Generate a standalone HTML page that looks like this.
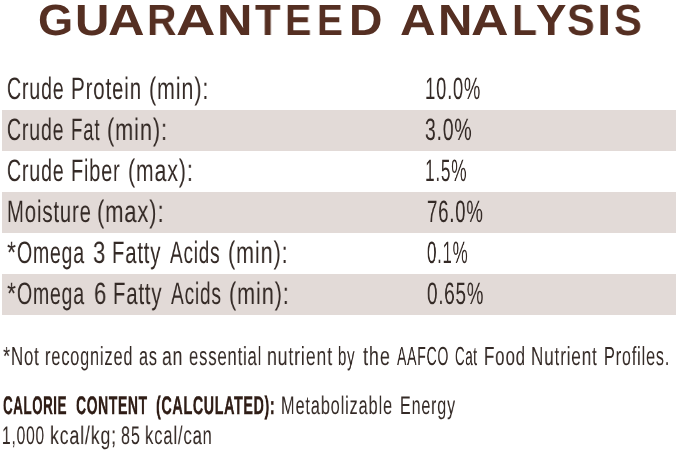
<!DOCTYPE html>
<html><head><meta charset="utf-8">
<style>
html,body{margin:0;padding:0;background:#fff;}
body{width:679px;height:451px;position:relative;overflow:hidden;font-family:"Liberation Sans",sans-serif;color:#342a26;}
span{position:absolute;white-space:nowrap;line-height:1;transform-origin:0 0;text-rendering:geometricPrecision;will-change:transform;}
.n{letter-spacing:1.3px;}
.b{font-weight:bold;color:#2f1d16;letter-spacing:1.0px;-webkit-text-stroke:0.4px #2f1d16;}
.t{font-weight:bold;color:#552f22;font-size:43.7px;}
.g{position:absolute;left:2px;width:674px;height:41px;background:#e2dad7;}
</style></head><body>
<div class="g" style="top:110px"></div>
<div class="g" style="top:192px"></div>
<div class="g" style="top:274px"></div>
<span class="t" style="left:38.23px;top:-1.00px;transform:scaleX(1.0345)">G</span>
<span class="t" style="left:75.03px;top:-1.00px;transform:scaleX(1.0885)">U</span>
<span class="t" style="left:108.04px;top:-1.00px;transform:scaleX(1.1586)">A</span>
<span class="t" style="left:146.60px;top:-1.00px;transform:scaleX(0.9333)">R</span>
<span class="t" style="left:175.55px;top:-1.00px;transform:scaleX(1.2483)">A</span>
<span class="t" style="left:216.73px;top:-1.00px;transform:scaleX(1.1231)">N</span>
<span class="t" style="left:254.90px;top:-1.00px;transform:scaleX(0.9538)">T</span>
<span class="t" style="left:284.79px;top:-1.00px;transform:scaleX(0.9040)">E</span>
<span class="t" style="left:317.15px;top:-1.00px;transform:scaleX(0.8840)">E</span>
<span class="t" style="left:348.52px;top:-1.00px;transform:scaleX(1.0593)">D</span>
<span class="t" style="left:400.47px;top:-1.00px;transform:scaleX(1.1276)">A</span>
<span class="t" style="left:437.93px;top:-1.00px;transform:scaleX(1.0885)">N</span>
<span class="t" style="left:470.91px;top:-1.00px;transform:scaleX(1.1897)">A</span>
<span class="t" style="left:511.69px;top:-1.00px;transform:scaleX(0.9364)">L</span>
<span class="t" style="left:536.06px;top:-1.00px;transform:scaleX(1.0444)">Y</span>
<span class="t" style="left:567.05px;top:-1.00px;transform:scaleX(0.9500)">S</span>
<span class="t" style="left:597.15px;top:-1.00px;transform:scaleX(1.1833)">I</span>
<span class="t" style="left:613.85px;top:-1.00px;transform:scaleX(0.9538)">S</span>
<span class="n" style="left:6.73px;top:74.10px;font-size:30.9px;transform:scaleX(0.6326)">Crude</span>
<span class="n" style="left:70.97px;top:74.10px;font-size:30.9px;transform:scaleX(0.6637)">Protein</span>
<span class="n" style="left:149.31px;top:74.10px;font-size:30.9px;transform:scaleX(0.6951)">(min):</span>
<span class="n" style="left:425.41px;top:74.10px;font-size:30.9px;transform:scaleX(0.5967)">10.0%</span>
<span class="n" style="left:6.74px;top:115.14px;font-size:30.9px;transform:scaleX(0.6314)">Crude</span>
<span class="n" style="left:70.99px;top:115.14px;font-size:30.9px;transform:scaleX(0.6044)">Fat</span>
<span class="n" style="left:107.29px;top:115.14px;font-size:30.9px;transform:scaleX(0.7037)">(min):</span>
<span class="n" style="left:425.37px;top:115.14px;font-size:30.9px;transform:scaleX(0.6278)">3.0%</span>
<span class="n" style="left:6.73px;top:156.18px;font-size:30.9px;transform:scaleX(0.6326)">Crude</span>
<span class="n" style="left:70.91px;top:156.18px;font-size:30.9px;transform:scaleX(0.6452)">Fiber</span>
<span class="n" style="left:128.22px;top:156.18px;font-size:30.9px;transform:scaleX(0.6888)">(max):</span>
<span class="n" style="left:425.18px;top:156.18px;font-size:30.9px;transform:scaleX(0.5592)">1.5%</span>
<span class="n" style="left:7.18px;top:197.22px;font-size:30.9px;transform:scaleX(0.6581)">Moisture</span>
<span class="n" style="left:97.18px;top:197.22px;font-size:30.9px;transform:scaleX(0.7090)">(max):</span>
<span class="n" style="left:426.90px;top:197.22px;font-size:30.9px;transform:scaleX(0.6022)">76.0%</span>
<span class="n" style="left:6.95px;top:238.26px;font-size:30.9px;transform:scaleX(0.7500)">*</span>
<span class="n" style="left:17.27px;top:238.26px;font-size:30.9px;transform:scaleX(0.6302)">Omega</span>
<span class="n" style="left:93.29px;top:238.26px;font-size:30.9px;transform:scaleX(0.7133)">3</span>
<span class="n" style="left:111.99px;top:238.26px;font-size:30.9px;transform:scaleX(0.6542)">Fatty</span>
<span class="n" style="left:170.10px;top:238.26px;font-size:30.9px;transform:scaleX(0.6150)">Acids</span>
<span class="n" style="left:228.20px;top:238.26px;font-size:30.9px;transform:scaleX(0.6988)">(min):</span>
<span class="n" style="left:426.95px;top:238.26px;font-size:30.9px;transform:scaleX(0.5486)">0.1%</span>
<span class="n" style="left:6.95px;top:279.30px;font-size:30.9px;transform:scaleX(0.7500)">*</span>
<span class="n" style="left:17.27px;top:279.30px;font-size:30.9px;transform:scaleX(0.6302)">Omega</span>
<span class="n" style="left:93.77px;top:279.30px;font-size:30.9px;transform:scaleX(0.7143)">6</span>
<span class="n" style="left:112.79px;top:279.30px;font-size:30.9px;transform:scaleX(0.6556)">Fatty</span>
<span class="n" style="left:170.70px;top:279.30px;font-size:30.9px;transform:scaleX(0.6188)">Acids</span>
<span class="n" style="left:228.80px;top:279.30px;font-size:30.9px;transform:scaleX(0.7012)">(min):</span>
<span class="n" style="left:426.89px;top:279.30px;font-size:30.9px;transform:scaleX(0.6088)">0.65%</span>
<span class="n" style="left:3.00px;top:342.80px;font-size:26.2px;transform:scaleX(0.7000)">*</span>
<span class="n" style="left:10.72px;top:342.80px;font-size:26.2px;transform:scaleX(0.6415)">Not</span>
<span class="n" style="left:45.05px;top:342.80px;font-size:26.2px;transform:scaleX(0.6257)">recognized</span>
<span class="n" style="left:139.08px;top:342.80px;font-size:26.2px;transform:scaleX(0.6222)">as</span>
<span class="n" style="left:161.83px;top:342.80px;font-size:26.2px;transform:scaleX(0.6714)">an</span>
<span class="n" style="left:188.96px;top:342.80px;font-size:26.2px;transform:scaleX(0.6360)">essential</span>
<span class="n" style="left:266.65px;top:342.80px;font-size:26.2px;transform:scaleX(0.6745)">nutrient</span>
<span class="n" style="left:338.45px;top:342.80px;font-size:26.2px;transform:scaleX(0.5741)">by</span>
<span class="n" style="left:362.70px;top:342.80px;font-size:26.2px;transform:scaleX(0.6895)">the</span>
<span class="n" style="left:397.00px;top:342.80px;font-size:26.2px;transform:scaleX(0.5383)">AAFCO</span>
<span class="n" style="left:454.59px;top:342.80px;font-size:26.2px;transform:scaleX(0.5071)">Cat</span>
<span class="n" style="left:483.91px;top:342.80px;font-size:26.2px;transform:scaleX(0.6467)">Food</span>
<span class="n" style="left:531.19px;top:342.80px;font-size:26.2px;transform:scaleX(0.6525)">Nutrient</span>
<span class="n" style="left:603.85px;top:342.80px;font-size:26.2px;transform:scaleX(0.6228)">Profiles.</span>
<span class="b" style="left:3.47px;top:393.85px;font-size:25.4px;transform:scaleX(0.5280)">CALORIE</span>
<span class="b" style="left:75.65px;top:393.85px;font-size:25.4px;transform:scaleX(0.5523)">CONTENT</span>
<span class="b" style="left:156.03px;top:393.85px;font-size:25.4px;transform:scaleX(0.5680)">(CALCULATED):</span>
<span class="n" style="left:281.11px;top:393.85px;font-size:25.4px;transform:scaleX(0.6450)">Metabolizable</span>
<span class="n" style="left:399.83px;top:393.85px;font-size:25.4px;transform:scaleX(0.6341)">Energy</span>
<span class="n" style="left:1.97px;top:424.30px;font-size:25.4px;transform:scaleX(0.6136)">1,000</span>
<span class="n" style="left:50.41px;top:424.30px;font-size:25.4px;transform:scaleX(0.6945)">kcal/kg;</span>
<span class="n" style="left:120.86px;top:424.30px;font-size:25.4px;transform:scaleX(0.6357)">85</span>
<span class="n" style="left:145.19px;top:424.30px;font-size:25.4px;transform:scaleX(0.6545)">kcal/can</span>
</body></html>
